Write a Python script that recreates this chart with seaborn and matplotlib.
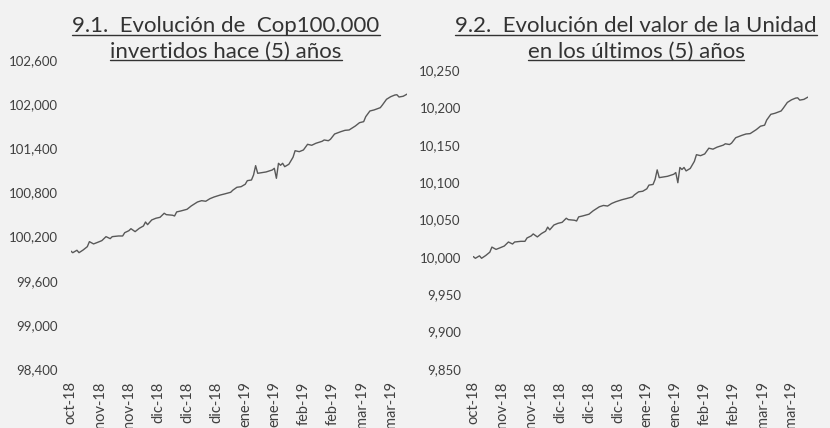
import pandas as pd
import seaborn as sns
import matplotlib.pyplot as plt
from matplotlib.lines import Line2D
from matplotlib.ticker import FuncFormatter

# datos (dias desde el inicio de la serie)
inicio = "2018-10-20"
dias = [0, 1, 3, 4, 6, 8, 9, 11, 13, 15, 17, 19, 20, 23, 25, 26, 28, 29, 31, 33,
        35, 36, 37, 39, 41, 43, 45, 46, 49, 50, 51, 53, 56, 58, 61, 63, 65, 67, 69, 72,
        74, 77, 78, 80, 82, 84, 85, 87, 88, 89, 90, 92, 94, 97, 98, 99, 100, 101, 102, 103,
        105, 107, 108, 110, 112, 114, 116, 118, 121, 122, 124, 125, 127, 130, 132, 134, 137, 139, 141, 142,
        144, 146, 149, 150, 152, 154, 156, 157, 158, 160, 162]

inversion = [100004, 99981, 100014, 99981, 100018, 100063, 100131, 100100, 100122, 100145,
             100199, 100172, 100199, 100208, 100208, 100253, 100280, 100307, 100267, 100312,
             100344, 100398, 100362, 100426, 100449, 100462, 100517, 100498, 100490, 100480,
             100535, 100548, 100571, 100616, 100670, 100688, 100680, 100715, 100738, 100765,
             100779, 100802, 100830, 100870, 100878, 100911, 100960, 100969, 101037, 101164,
             101060, 101069, 101078, 101105, 101128, 100992, 101196, 101169, 101196, 101150,
             101183, 101278, 101367, 101354, 101377, 101454, 101441, 101468, 101495, 101513,
             101503, 101522, 101594, 101626, 101644, 101649, 101703, 101748, 101762, 101830,
             101907, 101921, 101952, 101988, 102066, 102101, 102124, 102128, 102097, 102107,
             102138]

unidad = [10000.4, 9998.1, 10001.4, 9998.1, 10001.8, 10006.3, 10013.1, 10010.0, 10012.2, 10014.5,
          10019.9, 10017.2, 10019.9, 10020.8, 10020.8, 10025.3, 10028.0, 10030.7, 10026.7, 10031.2,
          10034.4, 10039.8, 10036.2, 10042.6, 10044.9, 10046.2, 10051.7, 10049.8, 10049.0, 10048.0,
          10053.5, 10054.8, 10057.1, 10061.6, 10067.0, 10068.8, 10068.0, 10071.5, 10073.8, 10076.5,
          10077.9, 10080.2, 10083.0, 10087.0, 10087.8, 10091.1, 10096.0, 10096.9, 10103.7, 10116.4,
          10106.0, 10106.9, 10107.8, 10110.5, 10112.8, 10099.2, 10119.6, 10116.9, 10119.6, 10115.0,
          10118.3, 10127.8, 10136.7, 10135.4, 10137.7, 10145.4, 10144.1, 10146.8, 10149.5, 10151.3,
          10150.3, 10152.2, 10159.4, 10162.6, 10164.4, 10164.9, 10170.3, 10174.8, 10176.2, 10183.0,
          10190.7, 10192.1, 10195.2, 10198.8, 10206.6, 10210.1, 10212.4, 10212.8, 10209.7, 10210.7,
          10213.8]

meses = ["ene", "feb", "mar", "abr", "may", "jun", "jul", "ago", "sep", "oct", "nov", "dic"]
titulo_1 = ["9.1.  Evolución de  Cop100.000", "invertidos hace (5) años"]
titulo_2 = ["9.2.  Evolución del valor de la Unidad", "en los últimos (5) años"]

fondo = "#f2f2f2"
sns.set_style("white", {"axes.facecolor": fondo, "figure.facecolor": fondo})
plt.rcParams["font.family"] = ["Lato", "DejaVu Sans"]

fechas = pd.Timestamp(inicio) + pd.to_timedelta(dias, unit="D")
ticks = pd.date_range(inicio, periods=12, freq="14D")
etiquetas = [f"{meses[t.month - 1]}-{t.strftime('%y')}" for t in ticks]

fig = plt.figure(figsize=(8.3, 4.28), dpi=100)
W, H = 830, 428


def ejes(x0, x1, y0, y1):
    return fig.add_axes([x0 / W, 1 - y1 / H, (x1 - x0) / W, (y1 - y0) / H])


ax1 = ejes(70.7, 407.3, 60, 369)
ax2 = ejes(473.3, 808, 70, 369)

for ax, serie, lim, paso in [(ax1, inversion, (98400, 102600), 600), (ax2, unidad, (9850, 10250), 50)]:
    sns.lineplot(x=fechas, y=serie, ax=ax, color="#595959", linewidth=1.0)
    ax.set_ylim(*lim)
    ax.set_yticks(range(lim[0], lim[1] + 1, paso))
    ax.yaxis.set_major_formatter(FuncFormatter(lambda v, p: f"{v:,.0f}"))
    ax.set_xlim(pd.Timestamp(inicio), pd.Timestamp(inicio) + pd.Timedelta(days=162))
    ax.set_xticks(ticks)
    ax.set_xticklabels(etiquetas, rotation=90, va="top", ha="center")
    ax.tick_params(axis="x", length=0, pad=9, labelsize=10.5, labelcolor="#404040")
    ax.tick_params(axis="y", length=0, pad=9, labelsize=9.5, labelcolor="#404040")
    ax.set_xlabel("")
    ax.set_ylabel("")
    sns.despine(ax=ax, left=True, bottom=True)

# titulos subrayados
textos = []
for cx, lineas in [(226, titulo_1), (636, titulo_2)]:
    for base, linea in zip([32, 57.5], lineas):
        t = fig.text(cx / W, 1 - base / H, linea, ha="center", va="baseline",
                     fontsize=16, color="#333333")
        textos.append((t, base))

fig.canvas.draw()
r = fig.canvas.get_renderer()
for t, base in textos:
    bb = t.get_window_extent(r)
    y = 1 - (base + 2.5) / H
    fig.add_artist(Line2D([bb.x0 / W, bb.x1 / W], [y, y], transform=fig.transFigure,
                          color="#333333", linewidth=1.0))

fig.savefig("out.png", dpi=100, facecolor=fondo)
